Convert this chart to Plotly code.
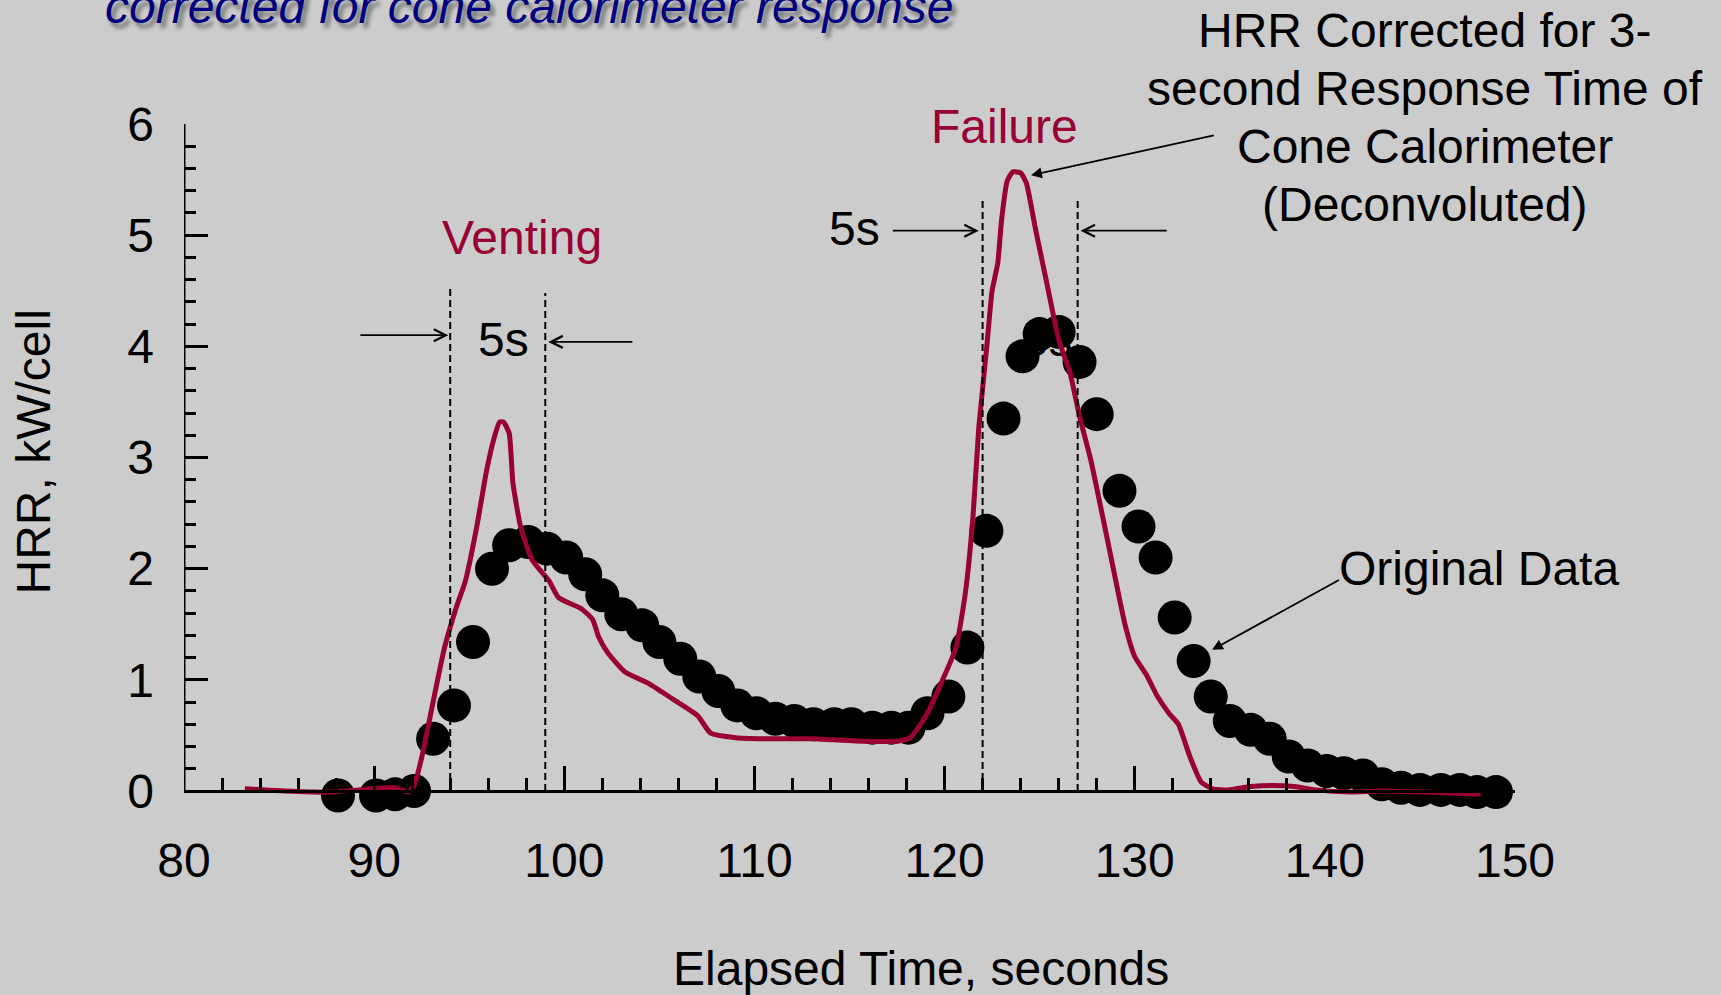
import plotly.graph_objects as go

# ---- data ----
orig_t = [88.1, 90.1, 91.1, 92.1, 93.1, 94.2, 95.2, 96.2, 97.1, 98.1, 99.1, 100.1, 101.1, 102.0,
          103.0, 104.1, 105.0, 106.1, 107.1, 108.1, 109.1, 110.1, 111.1, 112.1, 113.1, 114.2,
          115.1, 116.2, 117.2, 118.1, 119.1, 120.2, 121.2, 122.2, 123.1, 124.1, 125.0, 126.0,
          127.1, 128.0, 129.2, 130.2, 131.1, 132.1, 133.1, 134.0, 135.0, 136.1, 137.1, 138.1,
          139.1, 140.1, 141.0, 142.0, 143.0, 144.0, 145.0, 146.1, 147.1, 148.0, 149.0]
orig_hrr = [-0.04, -0.04, -0.03, 0.0, 0.47, 0.77, 1.34, 2.0, 2.21, 2.24, 2.18, 2.10, 1.95, 1.76,
            1.59, 1.49, 1.34, 1.19, 1.03, 0.90, 0.77, 0.70, 0.65, 0.63, 0.60, 0.60,
            0.60, 0.57, 0.57, 0.57, 0.70, 0.85, 1.29, 2.34, 3.35, 3.91, 4.11, 4.13,
            3.86, 3.39, 2.70, 2.38, 2.10, 1.56, 1.17, 0.85, 0.63, 0.55, 0.47, 0.31,
            0.23, 0.18, 0.16, 0.14, 0.06, 0.03, 0.01, 0.01, 0.01, -0.01, -0.01]

corr_t = [83.2, 85.3, 87.6, 89.9, 91.1, 91.8, 92.1, 92.5, 93.1, 93.7, 94.3, 94.8, 95.4, 95.9,
          96.3, 96.6, 96.8, 97.1, 97.3, 97.7, 98.3, 99.2, 99.7, 100.9, 101.5, 101.8, 102.3,
          103.2, 104.4, 105.5, 107.0, 107.7, 109.0, 110.7, 113.0, 115.3, 117.6, 118.2, 119.1,
          119.9, 120.6, 121.1, 121.5, 121.8, 122.2, 122.5, 122.8, 123.0, 123.3, 123.6, 124.0,
          124.3, 124.8, 125.4, 126.0, 126.6, 127.1, 127.7, 128.3, 128.9, 129.5, 130.0, 130.6,
          131.2, 131.8, 132.3, 132.9, 133.5, 134.1, 134.9, 136.1, 137.2, 138.4, 139.5, 141.3,
          142.9, 145.3, 148.2]
corr_hrr = [0.02, 0.0, -0.01, 0.02, 0.03, -0.01, 0.05, 0.3, 0.8, 1.29, 1.64, 1.89, 2.38, 2.87,
            3.17, 3.32, 3.32, 3.22, 2.77, 2.38, 2.08, 1.89, 1.74, 1.64, 1.54, 1.39, 1.24,
            1.07, 0.97, 0.85, 0.68, 0.52, 0.48, 0.47, 0.47, 0.45, 0.45, 0.48, 0.70,
            1.0, 1.29, 1.79, 2.48, 3.27, 3.96, 4.5, 4.75, 5.14, 5.49, 5.57, 5.56,
            5.47, 5.04, 4.55, 4.06, 3.76, 3.37, 2.97, 2.48, 1.98, 1.49, 1.21, 1.05,
            0.85, 0.70, 0.60, 0.31, 0.08, 0.02, 0.01, 0.04, 0.05, 0.04, 0.01, -0.01,
            0.0, -0.01, -0.03]

x_ticks = [80, 90, 100, 110, 120, 130, 140, 150]
y_ticks = [0, 1, 2, 3, 4, 5, 6]

# window markers (seconds) and their heights
win_x = [94.0, 99.0, 122.0, 127.0]
win_top = [4.53, 4.48, 5.34, 5.34]

hrr_label_lines = ["HRR Corrected for 3-", "second Response Time of",
                   "Cone Calorimeter", "(Deconvoluted)"]

RED = "#990033"
FONT = "Liberation Sans, Arial, sans-serif"
FS = 48

# ---- geometry (pixels) ----
W, H = 1721, 995
L, R = 184.4, 1514.7          # x = 80 .. 150
Y_TOP, Y0 = 124.0, 791.0      # y = 6 .. 0
EXTRA = 22.0                  # room below y=0 so markers at ~0 are not cut
B = Y0 + EXTRA
per_unit = (Y0 - Y_TOP) / 6.0
Y_MIN = -EXTRA / per_unit


def px(x):
    return (x - L) / (R - L)


def py(y):
    return (B - y) / (B - Y_TOP)


fig = go.Figure()

# hidden "5s" text partly covered by the dots
fig.add_trace(go.Scatter(x=[125.4], y=[4.02], mode="text", text=["5s"],
                         textfont=dict(size=FS, color="black", family=FONT),
                         showlegend=False, hoverinfo="skip"))

fig.add_trace(go.Scatter(x=orig_t, y=orig_hrr, mode="markers",
                         marker=dict(size=34, color="black"),
                         showlegend=False))

fig.add_trace(go.Scatter(x=corr_t, y=corr_hrr, mode="lines",
                         line=dict(color=RED, width=5, shape="spline", smoothing=0.5),
                         showlegend=False))

for xv, top in zip(win_x, win_top):
    fig.add_trace(go.Scatter(x=[xv, xv], y=[0, top], mode="lines",
                             line=dict(color="black", width=2, dash="7px,4px"),
                             showlegend=False, hoverinfo="skip"))

# y axis line (ends at y = 0, like the original)
fig.add_shape(type="line", x0=80, x1=80, y0=0, y1=6, xref="x", yref="y",
              line=dict(color="black", width=3), layer="above")

ann = []


def txt(x, y, s, color="black", size=FS, **kw):
    ann.append(dict(x=x, y=y, xref="x", yref="y", text=s, showarrow=False,
                    xanchor="center", yanchor="middle",
                    font=dict(family=FONT, size=size, color=color), **kw))


def ptxt(x, y, s, color="black", size=FS, **kw):
    ann.append(dict(x=px(x), y=py(y), xref="paper", yref="paper", text=s, showarrow=False,
                    xanchor=kw.pop("xanchor", "center"), yanchor=kw.pop("yanchor", "middle"),
                    font=kw.pop("font", dict(family=FONT, size=size, color=color)), **kw))


def arrow(tail, tip, head=5, size=1.3, width=1.8):
    ann.append(dict(x=tip[0], y=tip[1], ax=tail[0], ay=tail[1], xref="x", yref="y",
                    axref="x", ayref="y", text="", showarrow=True, arrowhead=head,
                    arrowsize=size, arrowwidth=width, arrowcolor="black"))


txt(97.77, 4.98, "Venting", RED)
txt(123.16, 5.98, "Failure", RED)
txt(96.8, 4.06, "5s")
txt(115.26, 5.06, "5s")
txt(148.1, 2.0, "Original Data")

for i, line in enumerate(hrr_label_lines):
    ptxt(1424.7, 30.7 + 57.8 * i, line)

arrow((89.2, 4.1), (93.9, 4.1))
arrow((103.66, 4.04), (99.16, 4.04))
arrow((117.2, 5.04), (121.8, 5.04))
arrow((131.76, 5.04), (127.15, 5.04))
arrow((134.24, 5.90), (124.55, 5.54), head=2, size=1.2, width=1.8)
arrow((140.82, 1.905), (134.07, 1.27), head=2, size=1.2, width=1.8)

# axis titles and slide title
ptxt(921.0, 968.0, "Elapsed Time, seconds")
ptxt(33.0, 452.0, "HRR, kW/cell", textangle=-90)
ptxt(529.5, -21.6, "corrected for cone calorimeter response", yanchor="top",
     font=dict(family=FONT, size=48, color="#000080", style="italic",
               shadow="4px 5px 4px rgba(0,0,0,0.45)"))

tick_common = dict(ticks="inside", tickcolor="black", tickwidth=3, ticklen=24,
                   tickfont=dict(family=FONT, size=FS, color="black"),
                   showgrid=False, zeroline=False)

fig.update_layout(
    width=W, height=H,
    margin=dict(l=L, r=W - R, t=Y_TOP, b=H - B),
    paper_bgcolor="#cccccc", plot_bgcolor="#cccccc",
    showlegend=False,
    annotations=ann,
    xaxis=dict(range=[80, 150], tickvals=x_ticks, ticklabelstandoff=26,
               anchor="free", position=EXTRA / (B - Y_TOP),
               showline=True, linecolor="black", linewidth=3,
               minor=dict(ticks="inside", ticklen=12, tickwidth=3, tickcolor="black", dtick=2),
               **tick_common),
    yaxis=dict(range=[Y_MIN, 6], tickvals=y_ticks, ticklabelstandoff=29,
               showline=False,
               minor=dict(ticks="inside", ticklen=12, tickwidth=3, tickcolor="black",
                          tick0=0, dtick=0.2),
               **tick_common),
)

fig.write_html("out.html")
